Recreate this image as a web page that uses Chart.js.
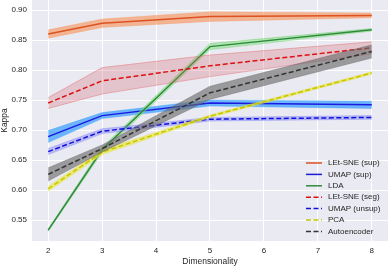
<!DOCTYPE html>
<html><head><meta charset="utf-8">
<script src="https://cdn.jsdelivr.net/npm/chart.js@4/dist/chart.umd.min.js"></script>
<style>html,body{margin:0;padding:0;background:#fff}canvas{display:block}</style>
</head><body>
<canvas id="c" width="388" height="267"></canvas>
<script>
// ---- data ----
const dims = [2, 3, 5, 8];
const xTicks = [2, 3, 4, 5, 6, 7, 8];
const yTicks = [0.55, 0.60, 0.65, 0.70, 0.75, 0.80, 0.85, 0.90];
const labels = ['LEt-SNE (sup)', 'UMAP (sup)', 'LDA', 'LEt-SNE (seg)', 'UMAP (unsup)', 'PCA', 'Autoencoder'];

const letsneSup      = [0.860, 0.878, 0.889, 0.891];
const letsneSupErr   = [0.007, 0.007, 0.008, 0.004];
const umapSup        = [0.689, 0.724, 0.745, 0.742];
const umapSupErr     = [0.010, 0.005, 0.005, 0.006];
const lda            = [0.533, 0.667, 0.839, 0.867];
const ldaErr         = [0.002, 0.004, 0.005, 0.002];
const letsneSeg      = [0.745, 0.782, 0.807, 0.837];
const letsneSegErr   = [0.009, 0.022, 0.018, 0.010];
const umapUnsup      = [0.664, 0.698, 0.718, 0.721];
const umapUnsupErr   = [0.005, 0.004, 0.003, 0.003];
const pca            = [0.602, 0.663, 0.723, 0.795];
const pcaErr         = [0.004, 0.004, 0.002, 0.002];
const autoencoder    = [0.626, 0.669, 0.762, 0.831];
const autoencoderErr = [0.011, 0.006, 0.011, 0.011];

// ---- styles ----
const means = [letsneSup, umapSup, lda, letsneSeg, umapUnsup, pca, autoencoder];
const errs = [letsneSupErr, umapSupErr, ldaErr, letsneSegErr, umapUnsupErr, pcaErr, autoencoderErr];
const lineColors = ['#dc5222', '#1a1ae0', '#2f8a3c', '#dd1010', '#1010dd', '#c8c400', '#333333'];
const bandColors = ['rgba(246,150,95,0.65)', 'rgba(40,150,255,0.65)', 'rgba(130,225,130,0.55)',
  'rgba(215,110,115,0.30)', 'rgba(110,110,250,0.38)', 'rgba(235,235,60,0.65)', 'rgba(105,105,105,0.62)'];
const bandEdges = ['rgba(246,150,95,0.4)', 'rgba(40,150,255,0.4)', 'rgba(100,200,100,0.5)',
  'rgba(225,90,95,0.5)', 'rgba(110,110,250,0.4)', 'rgba(220,220,60,0.5)', 'rgba(90,90,90,0.4)'];
const dashes = [[], [], [], [5, 2.5], [5, 2.5], [5, 2.5], [5, 2.5]];

const pts = arr => dims.map((d, i) => ({x: d, y: arr[i]}));
const datasets = [];
means.forEach((m, s) => {
  const e = errs[s];
  const base = 100 - s * 3;
  datasets.push({label: '_lo' + s, data: pts(m.map((v, i) => v - e[i])), borderWidth: 0.8,
    borderColor: bandEdges[s], pointRadius: 0, fill: false, order: base});
  datasets.push({label: '_hi' + s, data: pts(m.map((v, i) => v + e[i])), borderWidth: 0.8,
    borderColor: bandEdges[s], backgroundColor: bandColors[s], pointRadius: 0, fill: '-1', order: base - 1});
  datasets.push({label: labels[s], data: pts(m), borderColor: lineColors[s], borderWidth: 1.5,
    borderDash: dashes[s], pointRadius: 0, fill: false, order: base - 2});
});

const bgPlugin = {
  id: 'bg',
  beforeDraw(chart) {
    const {ctx, chartArea: a} = chart;
    ctx.save();
    ctx.fillStyle = '#eaeaf2';
    ctx.fillRect(a.left, a.top, a.right - a.left, a.bottom - a.top);
    ctx.restore();
  }
};

const legendPlugin = {
  id: 'customLegend',
  afterDraw(chart) {
    const ctx = chart.ctx;
    ctx.save();
    ctx.font = '8px "Liberation Sans", Arial, sans-serif';
    ctx.textBaseline = 'middle';
    ctx.fillStyle = '#262626';
    const x0 = 306, x1 = 322, tx = 328, y0 = 163, dy = 11.4;
    labels.forEach((lab, s) => {
      const y = y0 + s * dy;
      ctx.strokeStyle = lineColors[s];
      ctx.lineWidth = 1.5;
      ctx.setLineDash(dashes[s]);
      ctx.beginPath(); ctx.moveTo(x0, y); ctx.lineTo(x1, y); ctx.stroke();
      ctx.setLineDash([]);
      ctx.fillText(lab, tx, y);
    });
    ctx.restore();
  }
};

const noPad = sc => { sc.paddingTop = 0; sc.paddingBottom = 0; sc.paddingLeft = 0; sc.paddingRight = 0; };
const tickFont = {family: '"Liberation Sans", Arial, sans-serif', size: 8};
new Chart(document.getElementById('c'), {
  type: 'line',
  data: {datasets},
  options: {
    responsive: false,
    animation: false,
    devicePixelRatio: 1,
    layout: {padding: 0},
    plugins: {legend: {display: false}, tooltip: {enabled: false}},
    elements: {line: {tension: 0}},
    scales: {
      x: {
        type: 'linear', min: 1.7, max: 8.3,
        afterBuildTicks: sc => { sc.ticks = xTicks.map(v => ({value: v})); },
        afterFit: sc => { sc.height = 26; noPad(sc); },
        grid: {color: '#ffffff', lineWidth: 1, drawTicks: false},
        border: {display: false},
        ticks: {font: tickFont, color: '#262626', padding: 5},
        title: {display: true, text: 'Dimensionality', font: {family: tickFont.family, size: 8.5},
          color: '#262626', padding: {top: 0, bottom: 0}}
      },
      y: {
        type: 'linear', min: 0.515, max: 0.9167,
        afterBuildTicks: sc => { sc.ticks = yTicks.map(v => ({value: v})); },
        afterFit: sc => { sc.width = 32; noPad(sc); },
        grid: {color: '#ffffff', lineWidth: 1, drawTicks: false},
        border: {display: false},
        ticks: {font: tickFont, color: '#262626', padding: 5,
          callback: v => v.toFixed(2)},
        title: {display: true, text: 'Kappa', font: {family: tickFont.family, size: 8.5},
          color: '#262626', padding: {top: 0, bottom: 0}}
      }
    }
  },
  plugins: [bgPlugin, legendPlugin]
});
</script>
</body></html>
